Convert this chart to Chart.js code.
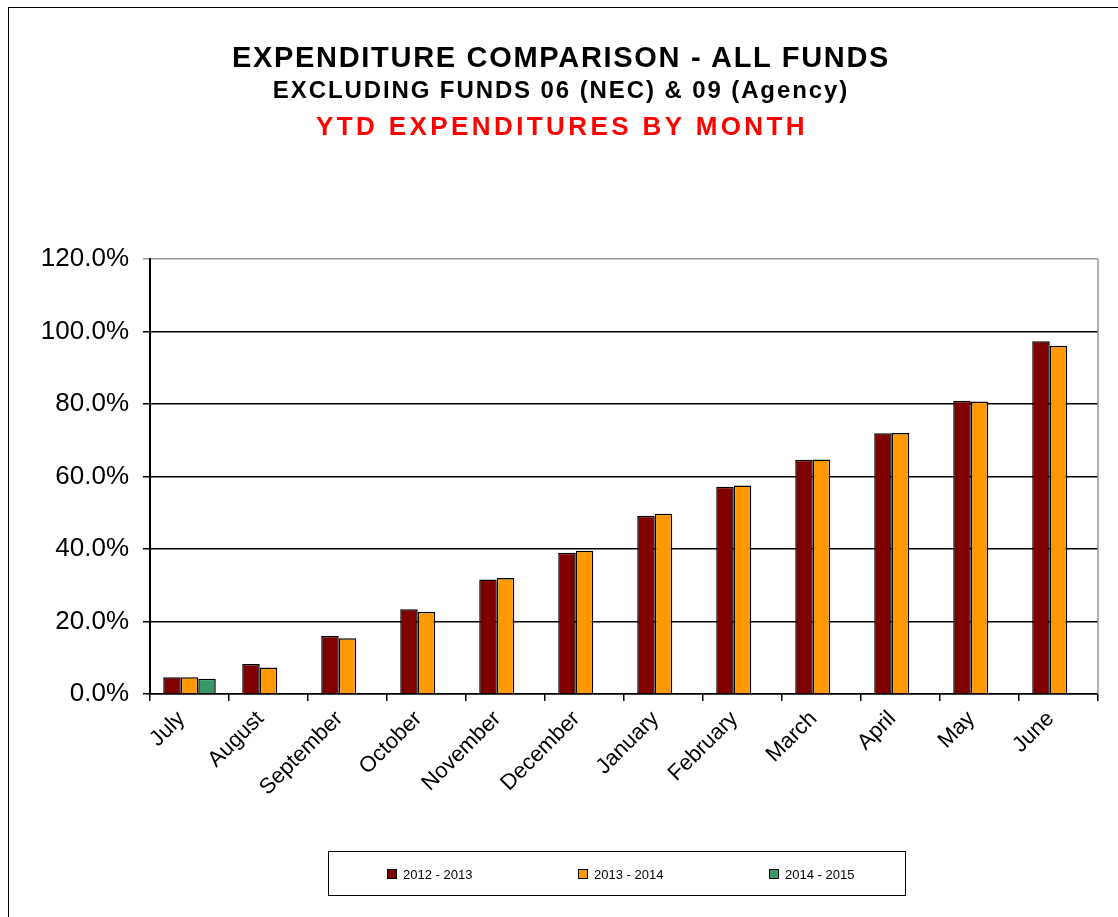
<!DOCTYPE html>
<html>
<head>
<meta charset="utf-8">
<script src="https://cdn.jsdelivr.net/npm/chart.js@4.4.1/dist/chart.umd.min.js"></script>
<style>
    body { margin: 0; background: #fff; font-family: "Liberation Sans", Arial, sans-serif; }
    #wrap { position: relative; width: 1118px; height: 917px; overflow: hidden; }
    #frame { position: absolute; left: 8px; top: 7px; width: 1300px; height: 1100px; border: 1.5px solid #000; }
    #myChart { position: absolute; left: 0; top: 0; }
    .title { position: absolute; left: 0; width: 1118px; text-align: center; font-weight: bold; color: #000; white-space: nowrap; line-height: 1; }
    #t1 { top: 43px; font-size: 29px; letter-spacing: 1.7px; padding-left: 2px; }
    #t2 { top: 78px; font-size: 24px; letter-spacing: 1.9px; padding-left: 2px; }
    #t3 { top: 113px; font-size: 26px; letter-spacing: 3.4px; padding-left: 3px; color: #ff0000; }
    #legend { position: absolute; left: 328px; top: 851px; width: 576px; height: 43px; border: 1.5px solid #000; }
    .item { position: absolute; top: 16px; font-size: 13px; line-height: 13px; white-space: nowrap; }
    .box { display: inline-block; width: 8px; height: 8px; border: 1px solid #000; margin-right: 6px; vertical-align: 0px; }
</style>
</head>
<body>
<div id="wrap">
    <div id="frame"></div>
    <canvas id="myChart" width="1118" height="917"></canvas>
    <div class="title" id="t1">EXPENDITURE COMPARISON - ALL FUNDS</div>
    <div class="title" id="t2">EXCLUDING FUNDS 06 (NEC) &amp; 09 (Agency)</div>
    <div class="title" id="t3">YTD EXPENDITURES BY MONTH</div>
    <div id="legend"></div>
</div>
<script>
// months of the fiscal year
const months = ['July', 'August', 'September', 'October', 'November', 'December',
                'January', 'February', 'March', 'April', 'May', 'June'];

// YTD % spent
const fy2013 = [4.6, 8.3, 16.0, 23.4, 31.6, 39.0, 49.2, 57.2, 64.6, 71.9, 80.9, 97.3];
const fy2014 = [4.6, 7.3, 15.4, 22.7, 32.0, 39.5, 49.7, 57.5, 64.7, 72.0, 80.7, 96.1];
const fy2015 = [4.2, null, null, null, null, null, null, null, null, null, null, null];

const seriesNames = ['2012 - 2013', '2013 - 2014', '2014 - 2015'];
const seriesColors = ['#800000', '#ff9900', '#339966'];
const yTicks = [0, 20, 40, 60, 80, 100, 120];

// grey line on the right of the plot area
const rightEdge = {
    id: 'rightEdge',
    afterDraw(chart) {
        const a = chart.chartArea;
        const c = chart.ctx;
        c.save();
        c.strokeStyle = '#999';
        c.lineWidth = 1.5;
        c.beginPath();
        c.moveTo(a.right, a.top);
        c.lineTo(a.right, a.bottom);
        c.stroke();
        c.restore();
    }
};

const ctx = document.getElementById('myChart');
const myChart = new Chart(ctx, {
    type: 'bar',
    data: {
        labels: months,
        datasets: [fy2013, fy2014, fy2015].map((d, i) => ({
            label: seriesNames[i],
            data: d,
            backgroundColor: seriesColors[i],
            borderColor: '#000',
            borderWidth: 1.5,
            categoryPercentage: 0.665,
            barPercentage: 1
        }))
    },
    plugins: [rightEdge],
    options: {
        responsive: false,
        animation: false,
        layout: { padding: { left: 10, top: 259, right: 20, bottom: 0 } },
        plugins: {
            legend: { display: false },
            tooltip: { enabled: false }
        },
        scales: {
            x: {
                afterFit: (s) => { s.height = 223; },
                grid: {
                    offset: true,
                    drawOnChartArea: false,
                    drawTicks: true,
                    tickLength: 7,
                    color: '#000',
                    lineWidth: 1.5
                },
                border: { color: '#000', width: 1.5 },
                ticks: {
                    color: '#000',
                    font: { family: 'Liberation Sans', size: 22 },
                    maxRotation: 45,
                    minRotation: 45,
                    labelOffset: -8,
                    padding: 5
                }
            },
            y: {
                min: 0,
                max: 120,
                afterFit: (s) => { s.width = 140; },
                afterBuildTicks: (s) => { s.ticks = yTicks.map(v => ({ value: v })); },
                grid: {
                    color: (c) => c.tick && c.tick.value === 120 ? '#999' : '#000',
                    lineWidth: 1.5,
                    tickLength: 7
                },
                border: { color: '#000', width: 2 },
                ticks: {
                    color: '#000',
                    font: { family: 'Liberation Sans', size: 26 },
                    padding: 14,
                    callback: (v) => v.toFixed(1) + '%'
                }
            }
        }
    }
});

// legend in its own box, from the datasets
const legendX = [58, 249, 440];
const legendEl = document.getElementById('legend');
myChart.data.datasets.forEach((ds, i) => {
    const item = document.createElement('div');
    item.className = 'item';
    item.style.left = legendX[i] + 'px';
    item.innerHTML = '<span class="box" style="background:' + ds.backgroundColor + '"></span>' + ds.label;
    legendEl.appendChild(item);
});
</script>
</body>
</html>
